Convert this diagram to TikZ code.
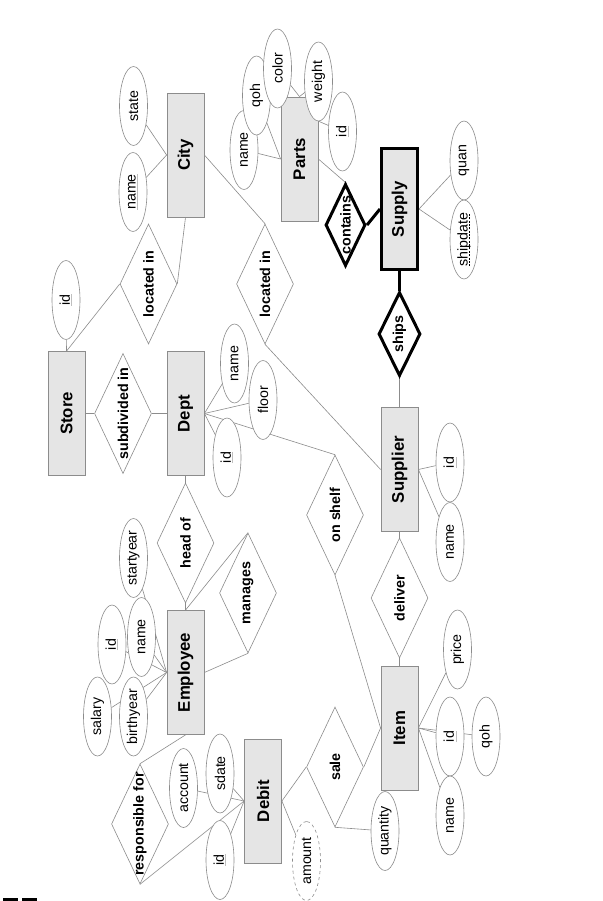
\documentclass[tikz,border=0pt]{standalone}
\usepackage{fontspec}
\setmainfont{Liberation Sans}
\usetikzlibrary{shapes.geometric}
\pgfdeclarelayer{background}
\pgfsetlayers{background,main}
\newcommand\keyu[1]{\setbox0\hbox{#1}\rlap{\textcolor{gray!50}{\rule[-2.5pt]{\wd0}{0.9pt}}}#1}
\newcommand\dashu[1]{\setbox0\hbox{#1}\rlap{\raisebox{-2.5pt}{\hbox to\wd0{\xleaders\hbox{\rule{2pt}{0.7pt}\hskip1.2pt}\hfill}}}#1}
\newcommand\zt[1]{\makebox[0pt]{#1}}
\begin{document}
\begin{tikzpicture}[x=1pt,y=-1pt,
 entity/.style={rectangle, draw=gray!90, fill=gray!20, line width=0.8pt, minimum width=124pt, minimum height=37pt, inner sep=0pt, rotate=90, font=\fontsize{16.8}{20}\selectfont\bfseries},
 rel/.style={diamond, draw=gray!90, fill=white, line width=0.6pt, minimum width=120pt, minimum height=57pt, inner sep=0pt, rotate=90, font=\fontsize{14.3}{17}\selectfont\bfseries},
 attr/.style={ellipse, draw=gray!90, fill=white, line width=0.6pt, minimum width=79pt, minimum height=28pt, inner sep=0pt, rotate=90, font=\fontsize{14.2}{17}\selectfont},
 conn/.style={draw=gray!90, line width=0.6pt},
 strong/.style={draw=black, line width=3pt}]
\useasboundingbox (0,0) rectangle (602,901);
% entities
\node[entity] (City) at (185.5,155) {City};
\node[entity] (Parts) at (299.5,159) {Parts};
\node[entity] (Store) at (66.5,413.5) {Store};
\node[entity] (Dept) at (185.5,413.5) {Dept};
\node[entity] (Supplier) at (399.5,469.5) {Supplier};
\node[entity, draw=black, line width=3pt, minimum width=121pt, minimum height=36pt] (Supply) at (399.5,209) {Supply};
\node[entity] (Employee) at (185.5,672.5) {Employee};
\node[entity] (Debit) at (263,801) {Debit};
\node[entity] (Item) at (399.5,728) {Item};
% relationships
\node[rel] (loc1) at (148.5,284) {\zt{located in}};
\node[rel] (loc2) at (265,284) {\zt{located in}};
\node[rel] (sub) at (123,413.5) {\zt{subdivided in}};
\node[rel] (headof) at (185.5,543) {\zt{head of}};
\node[rel] (manages) at (248,593) {\zt{manages}};
\node[rel] (onshelf) at (335,515) {\zt{on shelf}};
\node[rel] (deliver) at (399.5,598) {\zt{deliver}};
\node[rel] (sale) at (335,767) {\zt{sale}};
\node[rel] (resp) at (140,824) {\zt{responsible for}};
\node[rel, draw=black, line width=3pt, minimum width=82pt, minimum height=40pt] (contains) at (345.5,225) {\zt{contains}};
\node[rel, draw=black, line width=3pt, minimum width=84pt, minimum height=42pt] (ships) at (399.5,334) {\zt{ships}};
% attributes
\node[attr] (state) at (133.5,106) {\zt{state}};
\node[attr] (cityname) at (133,192) {\zt{\keyu{name}}};
\node[attr] (partsname) at (244,150) {\zt{name}};
\node[attr] (partsqoh) at (256.5,95.5) {\zt{qoh}};
\node[attr] (color) at (277.5,68.5) {\zt{color}};
\node[attr] (weight) at (318.5,81.5) {\zt{weight}};
\node[attr] (partsid) at (342.5,131.5) {\zt{\keyu{id}}};
\node[attr] (quan) at (464,160.5) {\zt{quan}};
\node[attr] (shipdate) at (464,239.5) {\zt{\dashu{shipdate}}};
\node[attr] (storeid) at (66,300) {\zt{\keyu{id}}};
\node[attr] (deptname) at (234.5,363.5) {\zt{name}};
\node[attr] (floor) at (263,400) {\zt{floor}};
\node[attr] (deptid) at (227,457.5) {\zt{\keyu{id}}};
\node[attr] (supid) at (450,462.5) {\zt{\keyu{id}}};
\node[attr] (supname) at (450,542) {\zt{name}};
\node[attr] (startyear) at (133.5,558) {\zt{startyear}};
\node[attr] (empid) at (112,644.5) {\zt{\keyu{id}}};
\node[attr] (empname) at (141.5,637) {\zt{name}};
\node[attr] (salary) at (97.5,716.5) {\zt{salary}};
\node[attr] (birthyear) at (133.5,716.5) {\zt{birthyear}};
\node[attr] (account) at (183.5,788) {\zt{account}};
\node[attr] (sdate) at (220,773.5) {\zt{sdate}};
\node[attr] (debid) at (220,860) {\zt{\keyu{id}}};
\node[attr, dashed] (amount) at (306.5,861) {\zt{amount}};
\node[attr] (quantity) at (385,831) {\zt{quantity}};
\node[attr] (price) at (457.5,649.5) {\zt{price}};
\node[attr] (itemid) at (450,736.5) {\zt{\keyu{id}}};
\node[attr] (itemqoh) at (486,736.5) {\zt{qoh}};
\node[attr] (itemname) at (450,815.5) {\zt{name}};
\coordinate (pidend) at (318,121);
% marks at the bottom edge
\fill[black] (3,898) rectangle (18,901);
\fill[black] (22,898) rectangle (37,901);
% connectors
\begin{pgfonlayer}{background}
\fill[white] (0,0) rectangle (602,901);
\path[conn] (state) -- (City.north);
\path[conn] (cityname) -- (City.north);
\path[conn] (City.west) -- (loc1.south);
\path[conn] (loc1.north) -- (Store.east);
\path[conn] (storeid) -- (Store.east);
\path[conn] (City.south) -- (loc2.east);
\path[conn] (loc2.west) -- (Supplier.north);
\path[conn] (partsname) -- (Parts.north);
\path[conn] (partsqoh) -- (Parts.north);
\path[conn] (color) -- (Parts.east);
\path[conn] (weight) -- (Parts.east);
\path[conn] (pidend) -- (partsid.center);
\path[conn] (Parts.south) -- (contains.east);
\path[strong] (contains.south) -- (Supply.north);
\path[strong] (Supply.west) -- (ships.east);
\path[conn] (Supply.south) -- (quan);
\path[conn] (Supply.south) -- (shipdate);
\path[conn] (ships.west) -- (Supplier.east);
\path[conn] (Supplier.south) -- (supid);
\path[conn] (Supplier.south) -- (supname);
\path[conn] (Supplier.west) -- (deliver.east);
\path[conn] (deliver.west) -- (Item.east);
\path[conn] (Store.south) -- (sub.north);
\path[conn] (sub.south) -- (Dept.north);
\path[conn] (Dept.south) -- (deptname);
\path[conn] (Dept.south) -- (floor);
\path[conn] (Dept.south) -- (deptid);
\path[conn] (Dept.south) -- (onshelf.east);
\path[conn] (Dept.west) -- (headof.east);
\path[conn] (headof.west) -- (Employee.east);
\path[conn] (manages.east) -- (Employee.east);
\path[conn] (manages.west) -- (Employee.south);
\path[conn] (startyear) -- (Employee.north);
\path[conn] (empid) -- (Employee.north);
\path[conn] (empname) -- (Employee.north);
\path[conn] (salary) -- (Employee.north);
\path[conn] (birthyear) -- (Employee.north);
\path[conn] (Employee.west) -- (resp.east);
\path[conn] (resp.west) -- (Debit.north);
\path[conn] (account) -- (Debit.north);
\path[conn] (sdate) -- (Debit.north);
\path[conn] (debid) -- (Debit.north);
\path[conn] (Debit.south) -- (amount);
\path[conn] (Debit.south) -- (sale.north);
\path[conn] (sale.south) -- (Item.north);
\path[conn] (sale.west) -- (quantity);
\path[conn] (onshelf.west) -- (Item.north);
\path[conn] (Item.south) -- (price);
\path[conn] (Item.south) -- (itemid);
\path[conn] (Item.south) -- (itemqoh);
\path[conn] (Item.south) -- (itemname);
\end{pgfonlayer}
\end{tikzpicture}
\end{document}
